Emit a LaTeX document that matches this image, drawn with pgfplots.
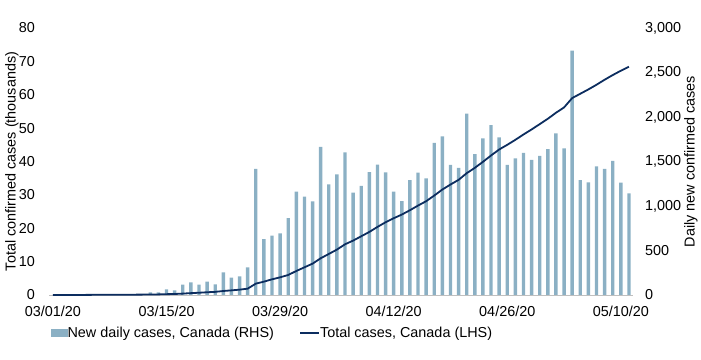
\documentclass[border=0pt]{standalone}
\usepackage{fontspec}
\setmainfont{Liberation Sans}
\usepackage{pgfplots}
\usepackage{pgfplotstable}
\pgfplotsset{compat=1.18}
\definecolor{barcol}{RGB}{139,176,196}
\definecolor{linecol}{RGB}{12,45,95}
\newcommand\fs{\fontsize{14.4bp}{17bp}\selectfont}

\pgfplotstableread{
k v
12 30
13 30
14 64
15 53
16 116
17 143
18 116
19 149
20 120
21 255
22 194
23 210
24 311
25 1416
26 629
27 667
28 693
29 865
30 1161
31 1105
32 1053
33 1663
34 1244
35 1356
36 1603
37 1150
38 1225
39 1382
40 1464
41 1378
42 1161
43 1056
44 1292
45 1374
46 1311
47 1708
48 1783
49 1461
50 1427
51 2037
52 1584
53 1761
54 1910
55 1772
56 1461
57 1536
58 1596
59 1517
60 1562
61 1640
62 1817
63 1648
64 2745
65 1292
66 1266
67 1446
68 1416
69 1506
70 1262
71 1143
}\bars

\pgfplotstableread{
k v
0 0.02
1 0.02
2 0.03
3 0.03
4 0.03
5 0.05
6 0.05
7 0.06
8 0.08
9 0.09
10 0.10
11 0.12
12 0.14
13 0.18
14 0.25
15 0.30
16 0.42
17 0.56
18 0.68
19 0.82
20 0.94
21 1.2
22 1.39
23 1.6
24 1.9
25 3.4
26 4.0
27 4.7
28 5.3
29 6.0
30 7.2
31 8.3
32 9.4
33 11.0
34 12.3
35 13.6
36 15.2
37 16.3
38 17.6
39 18.9
40 20.4
41 21.8
42 23.0
43 24.1
44 25.4
45 26.8
46 28.1
47 29.8
48 31.6
49 33.1
50 34.5
51 36.5
52 38.1
53 39.9
54 41.8
55 43.6
56 45.0
57 46.5
58 48.1
59 49.6
60 51.2
61 52.8
62 54.6
63 56.2
64 59.0
65 60.3
66 61.6
67 63.0
68 64.5
69 65.9
70 67.2
71 68.4
}\total

\begin{document}
\begin{tikzpicture}
\useasboundingbox (-49bp,-65bp) rectangle (652bp,295bp);
\begin{axis}[
  scale only axis, width=584bp, height=267bp,
  at={(0,0)}, anchor=south west,
  xmin=-0.49, xmax=71.5, ymin=0, ymax=3000,
  axis x line*=bottom, axis y line*=right,
  x axis line style={draw=black!25, line width=1bp, -},
  y axis line style={draw=none},
  xtick={0,14,28,42,56,70},
  xticklabels={03/01/20,03/15/20,03/29/20,04/12/20,04/26/20,05/10/20},
  ytick={0,500,...,3000},
  major tick length=0pt,
  tick label style={font=\fs},
  xticklabel style={inner sep=0pt, yshift=-11bp, anchor=north},
  yticklabel style={inner sep=0pt, xshift=12bp, anchor=west},
  /pgf/number format/1000 sep={,},
  /pgf/number format/assume math mode=true,
  ylabel={Daily new confirmed cases},
  ylabel style={font=\fs, at={(axis description cs:1.0993,0.5)}, anchor=center},
]
\addplot[ybar, bar width=3.4bp, bar shift=0pt, fill=barcol, draw=none] table[x=k,y=v]{\bars};
\end{axis}
\begin{axis}[
  scale only axis, width=584bp, height=267bp,
  at={(0,0)}, anchor=south west,
  xmin=-0.49, xmax=71.5, ymin=0, ymax=80,
  axis x line=none, axis y line*=left,
  y axis line style={draw=none},
  ytick={0,10,...,80},
  major tick length=0pt,
  tick label style={font=\fs},
  yticklabel style={inner sep=0pt, xshift=-14bp, anchor=east},
  /pgf/number format/assume math mode=true,
  ylabel={Total confirmed cases (thousands)},
  ylabel style={font=\fs, at={(axis description cs:-0.0634,0.5)}, anchor=center},
  legend style={at={(axis description cs:0.0034,-0.1423)}, anchor=west,
    draw=none, fill=none, legend columns=2, font=\fs, inner sep=0pt,
    nodes={inner sep=0pt},
    /tikz/every even column/.append style={column sep=25bp}},
]
\addlegendimage{legend image code/.code={\fill[barcol] (0bp,-3.5bp) rectangle (16bp,3.5bp);}}
\addlegendentry{New daily cases, Canada (RHS)}
\addplot[linecol, line width=1.8bp, legend image code/.code={\draw[linecol, line width=2bp] (0bp,0bp) -- (19bp,0bp);}] table[x=k,y=v]{\total};
\addlegendentry{Total cases, Canada (LHS)}
\end{axis}
\end{tikzpicture}
\end{document}
